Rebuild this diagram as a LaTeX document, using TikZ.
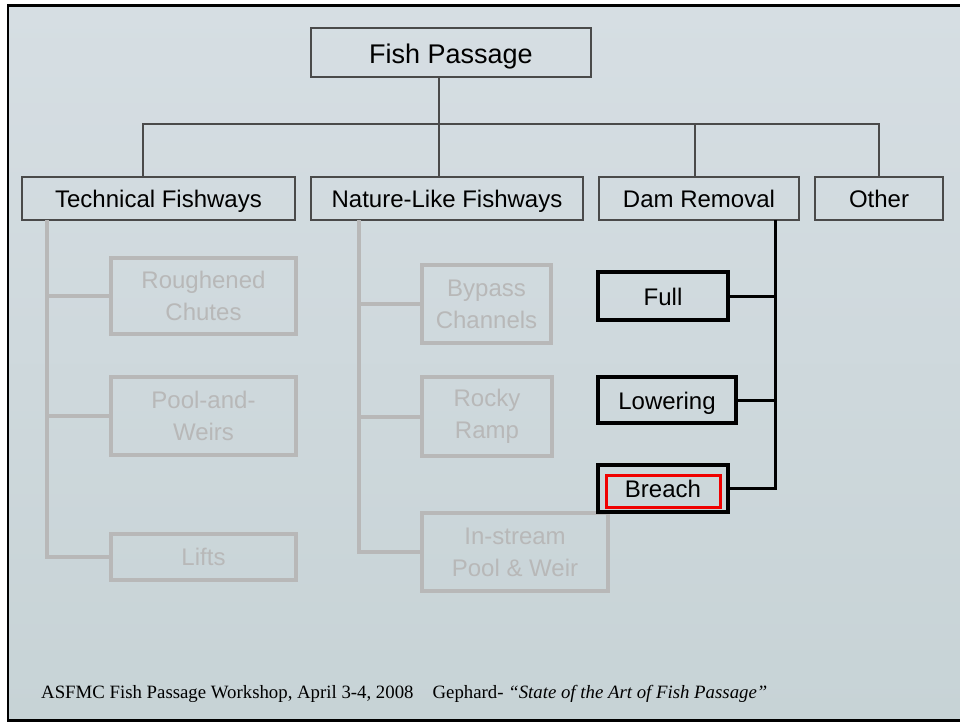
\documentclass[tikz,border=0pt]{standalone}
\usepackage{fontspec}
\setmainfont{Liberation Serif}
\newfontfamily\slidesans{Liberation Sans}
\usetikzlibrary{positioning}
\definecolor{seatop}{HTML}{D6DEE3}
\definecolor{seabot}{HTML}{C7D3D6}
\definecolor{boxline}{HTML}{4A4A4A}
\definecolor{fadegray}{HTML}{B8B8B8}
\definecolor{markred}{HTML}{F00000}
\tikzset{
  title/.style={
    draw=boxline, line width=1.3pt, rectangle, align=center, inner sep=0pt, outer sep=0pt,
    font=\slidesans\fontsize{27pt}{32pt}\selectfont, minimum width=280pt, minimum height=49pt,
    text height=23pt, text depth=2pt
  },
  kind/.style={
    draw=boxline, line width=1.3pt, rectangle, align=center, inner sep=0pt, outer sep=0pt,
    font=\slidesans\fontsize{24pt}{30pt}\selectfont, minimum height=43pt,
    text height=19pt, text depth=2pt
  },
  faded/.style={
    draw=fadegray, line width=4pt, rectangle, align=center, inner sep=0pt, outer sep=0pt,
    text=fadegray, font=\slidesans\fontsize{24pt}{32pt}\selectfont
  },
  shown/.style={
    draw=black, line width=3.5pt, rectangle, align=center, inner sep=0pt, outer sep=0pt,
    font=\slidesans\fontsize{24pt}{30pt}\selectfont, text height=20pt, text depth=2pt
  },
  trunk/.style={draw=boxline, line width=1.3pt},
  fadeline/.style={draw=fadegray, line width=4pt},
  boldline/.style={draw=black, line width=3pt},
}

\begin{document}
\begin{tikzpicture}[x=1pt, y=-1pt, node distance=16pt]
  % slide background
  \useasboundingbox (0,0) rectangle (960,723);
  \shade[top color=seatop, bottom color=seabot] (7,5) rectangle (960,721);
  \draw[line width=2.5pt] (8,5.5) rectangle (963,720.5);

  % top level
  \node[title] (fp) at (451,52.5) {Fish Passage};
  \node[kind, minimum width=273pt] (tech) at (158.5,198.5) {Technical Fishways};
  \node[kind, minimum width=272pt, right=of tech] (nat) {Nature-Like Fishways};
  \node[kind, minimum width=200pt, right=of nat] (dam) {Dam Removal};
  \node[kind, minimum width=128pt, right=of dam] (other) {Other};
  \coordinate (bus) at (439,124);
  \draw[trunk] (fp.south -| bus) -- (nat.north -| bus);
  \draw[trunk] (tech.north -| 143,0) |- (bus) -| (other.north -| 879,0);
  \draw[trunk] (bus -| 695,0) -- (dam.north -| 695,0);

  % technical fishways (faded)
  \node[faded, minimum width=185pt, minimum height=76pt] (rough) at (203.5,296) {Roughened\\Chutes};
  \node[faded, minimum width=185pt, minimum height=78pt] (pool) at (203.5,416) {Pool-and-\\Weirs};
  \node[faded, minimum width=185pt, minimum height=46pt] (lifts) at (203.5,557) {Lifts};
  \draw[fadeline] (tech.south -| 47,0) |- (lifts.west);
  \draw[fadeline] (rough.west) -- (rough.west -| 47,0);
  \draw[fadeline] (pool.west) -- (pool.west -| 47,0);

  % nature-like fishways (faded)
  \node[faded, minimum width=129pt, minimum height=78pt] (bypass) at (486.5,304) {Bypass\\Channels};
  \node[faded, minimum width=130pt, minimum height=79pt] (rocky) at (487,416.5) {Rocky\\Ramp};
  \node[faded, minimum width=186pt, minimum height=78pt] (instream) at (515,552) {In-stream\\Pool \& Weir};
  \draw[fadeline] (nat.south -| 359,0) |- (instream.west);
  \draw[fadeline] (bypass.west) -- (bypass.west -| 359,0);
  \draw[fadeline] (rocky.west) -- (rocky.west -| 359,0);

  % dam removal
  \node[shown, minimum width=130pt, minimum height=48pt] (full) at (663,296) {Full};
  \node[shown, minimum width=138pt, minimum height=46pt] (lower) at (667,400) {Lowering};
  \node[shown, minimum width=130pt, minimum height=47pt] (breach) at (663,488.5) {};
  \node[draw=markred, line width=3pt, minimum width=114pt, minimum height=32pt, inner sep=0pt,
        text height=17pt, text depth=4pt,
        font=\slidesans\fontsize{24pt}{30pt}\selectfont] (mark) at (663,491) {Breach};
  \draw[boldline] (dam.south -| 775,0) |- (breach.east);
  \draw[boldline] (full.east) -- (full.east -| 775,0);
  \draw[boldline] (lower.east) -- (lower.east -| 775,0);

  % footer
  \node[anchor=base west, inner sep=0pt, font=\fontsize{18.8pt}{22pt}\selectfont] (foot) at (41,698)
    {ASFMC Fish Passage Workshop, April 3-4, 2008\hspace{19pt}Gephard- \textit{“State of the Art of Fish Passage”}};
\end{tikzpicture}
\end{document}
